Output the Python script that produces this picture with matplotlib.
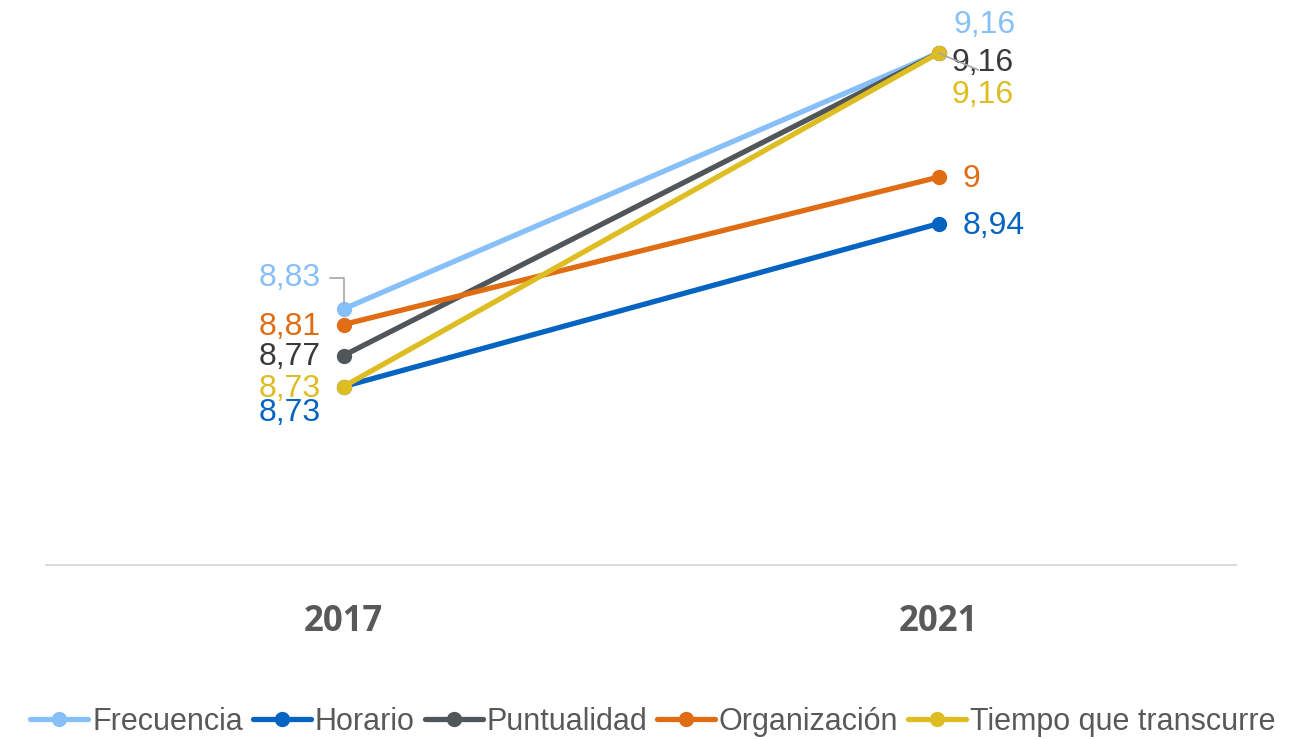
import matplotlib
matplotlib.use("Agg")
import matplotlib.pyplot as plt

plt.rcParams['font.family'] = ['Liberation Sans', 'DejaVu Sans']

years = ["2017", "2021"]
series = ["Frecuencia", "Horario", "Puntualidad", "Organización", "Tiempo que transcurre"]
values = {
    "Frecuencia": [8.83, 9.16],
    "Horario": [8.73, 8.94],
    "Puntualidad": [8.77, 9.16],
    "Organización": [8.81, 9.00],
    "Tiempo que transcurre": [8.73, 9.16],
}
labels = {
    "Frecuencia": ["8,83", "9,16"],
    "Horario": ["8,73", "8,94"],
    "Puntualidad": ["8,77", "9,16"],
    "Organización": ["8,81", "9"],
    "Tiempo que transcurre": ["8,73", "9,16"],
}
line_colors = {
    "Frecuencia": "#87C0F8",
    "Horario": "#0563C1",
    "Puntualidad": "#51565B",
    "Organización": "#E06C14",
    "Tiempo que transcurre": "#DDBD22",
}
text_colors = {
    "Frecuencia": "#87C0F8",
    "Horario": "#0563C1",
    "Puntualidad": "#3A3A3A",
    "Organización": "#E06C14",
    "Tiempo que transcurre": "#DDBD22",
}
# label offsets in pixels (dx, dy) for 2017 and 2021
offsets = {
    "Frecuencia": [(-23, 31), (15, 28)],
    "Horario": [(-23, -26), (24, -2)],
    "Puntualidad": [(-23, -1), (13, -10)],
    "Organización": [(-23, -2), (24, -2)],
    "Tiempo que transcurre": [(-23, -2), (13, -42)],
}

fig = plt.figure(figsize=(13.06, 7.39), dpi=100)
ax = fig.add_axes([46/1306, 1-565/739, (1236-46)/1306, (565-22)/739])
x = list(range(len(years)))
handles = []
for s in series:
    h, = ax.plot(x, values[s], color=line_colors[s], lw=3.8, marker='o', ms=10,
                 solid_capstyle='round', label=s)
    handles.append(h)

for s in series:
    for i in x:
        dx, dy = offsets[s][i]
        ax.annotate(labels[s][i], (i, values[s][i]), xytext=(dx, dy),
                    textcoords='offset pixels', ha='right' if i == 0 else 'left',
                    va='center', fontsize=23, color=text_colors[s], zorder=5)

# leader lines
ax.annotate("", xy=(0, values["Frecuencia"][0]), xytext=(-14, 31), textcoords='offset pixels',
            xycoords='data',
            arrowprops=dict(arrowstyle='-', color='#A6A6A6', lw=1.2,
                            connectionstyle='angle,angleA=0,angleB=90,rad=0', shrinkA=0, shrinkB=4))
ax.annotate("", xy=(1, values["Puntualidad"][1]), xytext=(40, -17), textcoords='offset pixels',
            arrowprops=dict(arrowstyle='-', color='#A6A6A6', lw=1.2, shrinkA=0, shrinkB=0), zorder=6)

ax.set_xlim(-0.5, 1.5)
ax.set_ylim(8.5, 9.2)
ax.set_xticks(x)
ax.set_xticklabels(years, fontsize=25, fontweight='bold', color='#595959', family='Open Sans')
ax.tick_params(axis='x', length=0, pad=28)
ax.set_yticks([])
for sp in ['top', 'right', 'left']:
    ax.spines[sp].set_visible(False)
ax.spines['bottom'].set_color('#D9D9D9')
ax.spines['bottom'].set_linewidth(1.3)

fig.legend(handles=handles, loc='center', bbox_to_anchor=(0.5, 1-722/739), ncol=5,
           frameon=False, fontsize=22, labelcolor='#595959', handlelength=1.9,
           handletextpad=0.12, columnspacing=0.33, borderaxespad=0)

fig.savefig("out.png", dpi=100)
